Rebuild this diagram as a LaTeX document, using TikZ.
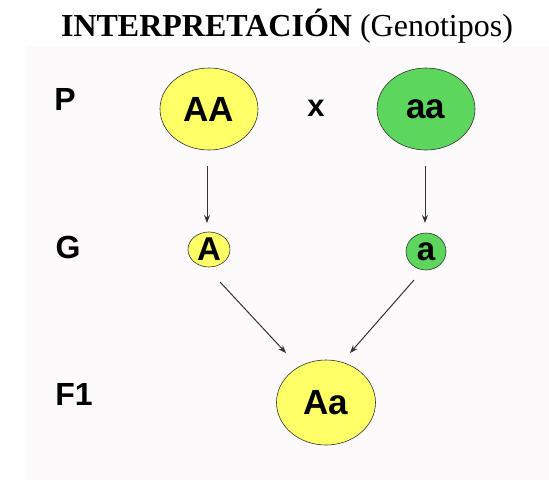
\documentclass[tikz,border=0pt]{standalone}
\usepackage{fontspec}
\setmainfont{Liberation Serif}
\newfontfamily\arialbold{Liberation Sans}[UprightFont=*-Bold]
\usetikzlibrary{arrows.meta}
\definecolor{panel}{HTML}{FCFAFA}
\definecolor{yel}{HTML}{FFFF66}
\definecolor{grn}{HTML}{5CD65C}
\definecolor{edge}{HTML}{333333}
\tikzset{
  geno/.style={ellipse, draw=edge, line width=0.6pt, inner sep=0pt, font=\arialbold\fontsize{35}{35}\selectfont},
  gamete/.style={ellipse, draw=edge, line width=0.6pt, inner sep=0pt, font=\arialbold\fontsize{33}{33}\selectfont},
  lab/.style={font=\arialbold\fontsize{32}{32}\selectfont, inner sep=0pt},
  arr/.style={draw=edge, line width=1pt, -{Stealth[length=8pt,width=6pt]}}
}
\usetikzlibrary{shapes.geometric}
\begin{document}
\begin{tikzpicture}[x=1pt,y=-1pt]
\useasboundingbox (0,0) rectangle (549,480);
\fill[white] (0,0) rectangle (549,480);
\fill[panel] (26,46) rectangle (549,480);
\node[font=\fontsize{32}{32}\selectfont, inner sep=0pt] (title) at (287,26) {\textbf{INTERPRETACIÓN} (Genotipos)};
\node[lab] (P) at (65,99) {P};
\node[lab] (G) at (68,247) {G};
\node[lab] (F1) at (74,394) {F1};
\node[geno, fill=yel, minimum width=98pt, minimum height=82pt] (AA) at (209,109) {AA};
\node[geno, fill=grn, minimum width=98pt, minimum height=82pt] (aa) at (426,109) {aa};
\node[font=\arialbold\fontsize{31}{31}\selectfont, inner sep=0pt] (x) at (316,108) {x};
\node[gamete, fill=yel, minimum width=42pt, minimum height=35pt] (A) at (209,249.5) {A};
\node[gamete, fill=grn, minimum width=40pt, minimum height=37pt] (a) at (426,251.5) {a};
\node[geno, fill=yel, minimum width=99pt, minimum height=85pt] (Aa) at (326,402.5) {Aa};
\coordinate (s1) at (207,166);
\coordinate (e1) at (207,223);
\coordinate (s2) at (425,166);
\coordinate (e2) at (425,223);
\coordinate (s3) at (220,282);
\coordinate (e3) at (286,353);
\coordinate (s4) at (414,280);
\coordinate (e4) at (350,353);
\draw[arr] (s1) -- (e1);
\draw[arr] (s2) -- (e2);
\draw[arr] (s3) -- (e3);
\draw[arr] (s4) -- (e4);
\end{tikzpicture}
\end{document}
